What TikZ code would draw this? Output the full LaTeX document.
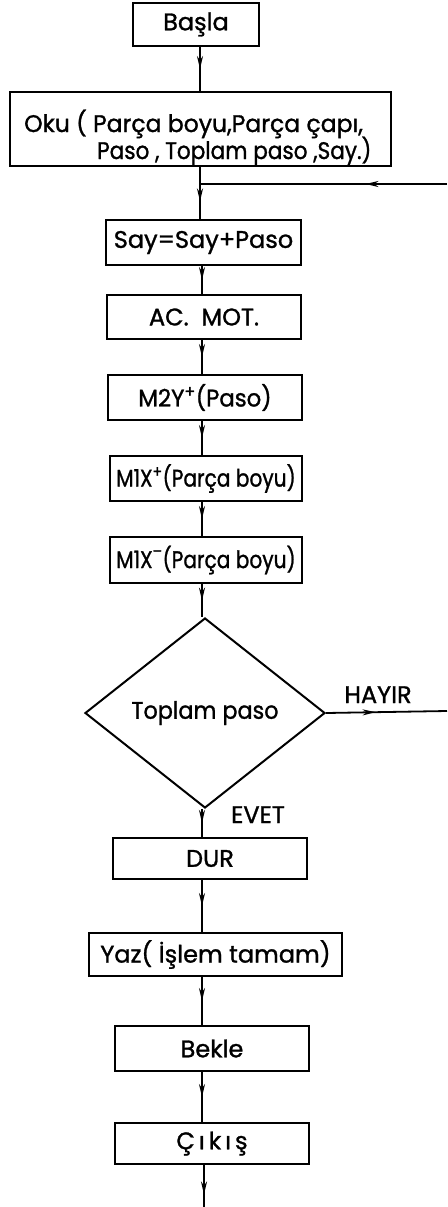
\documentclass[tikz,border=0pt]{standalone}
\usepackage{fontspec}
\setmainfont{Poppins}[FakeBold=1.2]
\usetikzlibrary{shapes.geometric,arrows.meta,decorations.markings}
\begin{document}
\begin{tikzpicture}[x=1pt,y=-1pt,
  txt/.style={font=\fontsize{24}{28}\selectfont, inner sep=0pt},
  box/.style={draw, line width=2.4pt, inner sep=0pt, txt},
  flow/.style={line width=1.8pt, postaction={decorate},
    decoration={markings, mark=at position #1 with {\arrow{Stealth[length=13pt,width=6pt]}}}},
  flow/.default=0.5]
\useasboundingbox (0,0) rectangle (447,1207);
\fill[white] (0,0) rectangle (447,1207);
\coordinate (spine) at (202,0);
\coordinate (j) at (200,184);
\coordinate (retin) at (447,184);
\coordinate (noout) at (447,711);
\coordinate (exit) at (204,1207);

\node[box, minimum width=126pt, minimum height=43pt] (basla) at (196,24.5) {Başla};
\node[box, minimum width=381pt, minimum height=74pt] (oku) at (200.5,129) {};
\node[txt, anchor=base west] (okua) at (24,132) {\scalebox{0.98}[1]{Oku ( Parça boyu,Parça çapı,}};
\node[txt, anchor=base west] (okub) at (97,159) {\scalebox{0.9}[1]{Paso , Toplam paso ,Say.)}};
\node[box, minimum width=195pt, minimum height=45pt] (say) at (203.5,242.5) {Say=Say+Paso};
\node[box, minimum width=194pt, minimum height=44pt] (ac) at (204,317) {AC.\ \ MOT.};
\node[box, minimum width=194pt, minimum height=45pt] (m2y) at (205,397.5) {\scalebox{0.95}[1]{M2Y\textsuperscript{+}(Paso)}};
\node[box, minimum width=192pt, minimum height=45pt] (m1xp) at (206,478.5) {\scalebox{0.84}[1]{M1X\textsuperscript{+}(Parça boyu)}};
\node[box, minimum width=192pt, minimum height=46pt] (m1xm) at (206,560) {\scalebox{0.84}[1]{M1X\textsuperscript{\raisebox{2pt}{–}}(Parça boyu)}};
\node[diamond, draw, line width=2pt, minimum width=240pt, minimum height=190pt, inner sep=0pt, txt] (dec) at (205,713) {\scalebox{0.93}[1]{Toplam paso}};
\node[txt, anchor=base] (hayir) at (378,703) {HAYIR};
\node[txt, anchor=base] (evet) at (258,823) {EVET};
\node[box, minimum width=194pt, minimum height=41pt] (dur) at (210,858.5) {DUR};
\node[box, minimum width=253pt, minimum height=43pt] (yaz) at (215.5,954.5) {Yaz( İşlem tamam)};
\node[box, minimum width=194pt, minimum height=45pt] (bekle) at (212,1048.5) {Bekle};
\node[box, minimum width=194pt, minimum height=41pt] (cikis) at (212,1143.5) {Ç\,ı\,k\,ı\,ş};

\draw[flow] (basla.south -| j) -- (oku.north -| j);
\draw[line width=1.8pt] (oku.south -| j) -- (j);
\draw[flow] (j) -- (say.north -| j);
\draw[flow=0.33] (retin) -- (j);
\draw[flow] (say.south -| spine) -- (ac.north -| spine);
\draw[flow] (ac.south -| spine) -- (m2y.north -| spine);
\draw[flow] (m2y.south -| spine) -- (m1xp.north -| spine);
\draw[flow] (m1xp.south -| spine) -- (m1xm.north -| spine);
\draw[flow] (m1xm.south -| spine) -- (dec.north -| spine);
\draw[flow=0.41] (dec.east) -- (noout);
\draw[flow] (dec.south -| spine) -- (dur.north -| spine);
\draw[flow] (dur.south -| spine) -- (yaz.north -| spine);
\draw[flow] (yaz.south -| spine) -- (bekle.north -| spine);
\draw[flow] (bekle.south -| spine) -- (cikis.north -| spine);
\draw[flow=0.7] (cikis.south -| exit) -- (exit);
\end{tikzpicture}
\end{document}
